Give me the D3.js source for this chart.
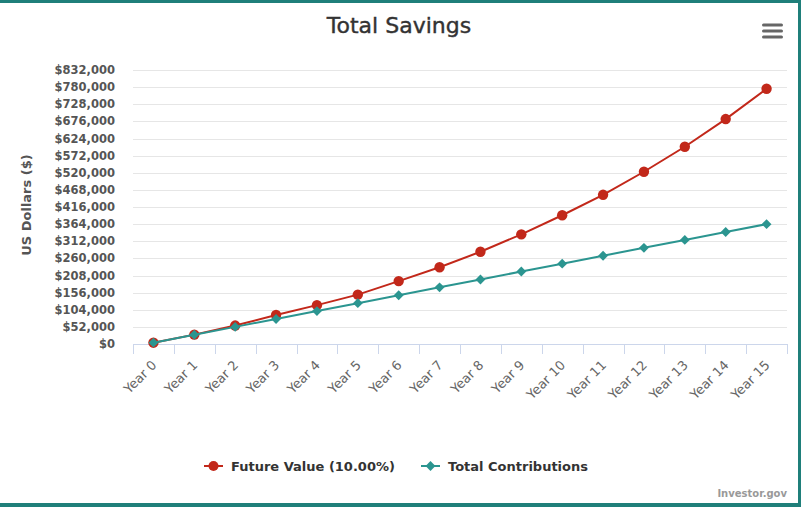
<!DOCTYPE html>
<html>
<head>
<meta charset="utf-8">
<script src="https://cdn.jsdelivr.net/npm/d3@7"></script>
<style>
  body { margin: 0; background: #fff; }
  svg { display: block; }
</style>
</head>
<body>
<svg width="801" height="507"></svg>
<script>
// values
const years = ["Year 0", "Year 1", "Year 2", "Year 3", "Year 4", "Year 5", "Year 6", "Year 7",
  "Year 8", "Year 9", "Year 10", "Year 11", "Year 12", "Year 13", "Year 14", "Year 15"];
const futureValue = [4000, 28500, 56000, 88000, 118000, 150000, 191000, 233000,
  280000, 333000, 391000, 453000, 523000, 599000, 683000, 775000];
const contributions = [4000, 28000, 52000, 76000, 100000, 124000, 148000, 172000,
  196000, 220000, 244000, 268000, 292000, 316000, 340000, 364000];
const yTicks = [0, 52000, 104000, 156000, 208000, 260000, 312000, 364000, 416000,
  468000, 520000, 572000, 624000, 676000, 728000, 780000, 832000];
const seriesNames = ["Future Value (10.00%)", "Total Contributions"];

const red = "#c2281a", teal = "#2b9590", border = "#1f7f7a";

let svg = d3.select("svg");
let margin = { top: 70, right: 14, bottom: 163, left: 133 };
let width = 801 - margin.left - margin.right,
  height = 507 - margin.top - margin.bottom;

// frame
svg.append("rect").attr("x", 0).attr("y", 0).attr("width", 801).attr("height", 3).attr("fill", border);
svg.append("rect").attr("x", 798).attr("y", 0).attr("width", 3).attr("height", 507).attr("fill", border);
svg.append("rect").attr("x", 0).attr("y", 503).attr("width", 801).attr("height", 4).attr("fill", border);

svg.append("text")
  .attr("x", 399).attr("y", 33)
  .attr("text-anchor", "middle")
  .style("font-family", "DejaVu Sans")
  .style("font-size", "22px")
  .style("fill", "#333")
  .style("stroke", "#333")
  .style("stroke-width", "0.4px")
  .text("Total Savings");

// menu icon
[24, 30, 36].forEach(function (y) {
  svg.append("rect").attr("x", 762).attr("y", y - 0.5).attr("width", 21).attr("height", 3)
    .attr("rx", 1.5).attr("fill", "#666");
});

let g = svg.append("g").attr("transform", "translate(" + margin.left + "," + margin.top + ")");

let x = d3.scaleBand().domain(years).range([0, width]);
let y = d3.scaleLinear().domain([0, 832000]).range([height, 0]);

// grid
g.selectAll(".grid")
  .data(yTicks)
  .enter()
  .append("line")
  .attr("x1", 0).attr("x2", width)
  .attr("y1", d => Math.round(y(d)) + 0.5).attr("y2", d => Math.round(y(d)) + 0.5)
  .attr("stroke", "#e6e6e6");

// y labels
g.selectAll(".ylab")
  .data(yTicks)
  .enter()
  .append("text")
  .attr("x", -18)
  .attr("y", d => y(d))
  .attr("dy", "0.35em")
  .attr("text-anchor", "end")
  .style("font-family", "DejaVu Sans")
  .style("font-weight", "bold")
  .style("font-size", "11.5px")
  .style("fill", "#555")
  .text(d => "$" + d3.format(",")(d));

svg.append("text")
  .attr("transform", "translate(31," + (margin.top + height / 2 - 2) + ") rotate(-90)")
  .attr("text-anchor", "middle")
  .style("font-family", "DejaVu Sans")
  .style("font-weight", "bold")
  .style("font-size", "13px")
  .style("fill", "#555")
  .text("US Dollars ($)");

// x axis
g.append("line")
  .attr("x1", 0).attr("x2", width)
  .attr("y1", height + 0.5).attr("y2", height + 0.5)
  .attr("stroke", "#ccd6eb");

g.selectAll(".xtick")
  .data(d3.range(years.length + 1))
  .enter()
  .append("line")
  .attr("x1", i => Math.round(i * x.step()) + 0.5)
  .attr("x2", i => Math.round(i * x.step()) + 0.5)
  .attr("y1", height).attr("y2", height + 10)
  .attr("stroke", "#ccd6eb");

g.selectAll(".xlab")
  .data(years)
  .enter()
  .append("text")
  .attr("transform", d => "translate(" + (x(d) + x.bandwidth() / 2 + 4) + "," + (height + 22) + ") rotate(-45)")
  .attr("text-anchor", "end")
  .style("font-family", "DejaVu Sans")
  .style("font-size", "13px")
  .style("fill", "#666")
  .text(d => d);

// series
let cx = (d, i) => x(years[i]) + x.bandwidth() / 2;
let line = d3.line().x(cx).y(d => y(d));

g.append("path")
  .attr("d", line(futureValue))
  .attr("fill", "none").attr("stroke", red).attr("stroke-width", 2);

g.selectAll(".fv")
  .data(futureValue)
  .enter()
  .append("circle")
  .attr("cx", cx).attr("cy", d => y(d)).attr("r", 5.2)
  .attr("fill", red);

g.append("path")
  .attr("d", line(contributions))
  .attr("fill", "none").attr("stroke", teal).attr("stroke-width", 2);

let diamond = d3.symbol().type(d3.symbolDiamond2).size(62);
g.selectAll(".tc")
  .data(contributions)
  .enter()
  .append("path")
  .attr("d", diamond)
  .attr("transform", (d, i) => "translate(" + cx(d, i) + "," + y(d) + ")")
  .attr("fill", teal);

// legend
let legend = svg.append("g").attr("transform", "translate(0,466)");
let items = [
  { name: seriesNames[0], color: red, x: 204, shape: "circle" },
  { name: seriesNames[1], color: teal, x: 421, shape: "diamond" }
];
items.forEach(function (it) {
  legend.append("line")
    .attr("x1", it.x).attr("x2", it.x + 19).attr("y1", 0).attr("y2", 0)
    .attr("stroke", it.color).attr("stroke-width", 2);
  if (it.shape === "circle") {
    legend.append("circle").attr("cx", it.x + 9.5).attr("cy", 0).attr("r", 5).attr("fill", it.color);
  } else {
    legend.append("path").attr("d", diamond).attr("transform", "translate(" + (it.x + 9.5) + ",0)").attr("fill", it.color);
  }
  legend.append("text")
    .attr("x", it.x + 27).attr("y", 5)
    .style("font-family", "DejaVu Sans")
    .style("font-weight", "bold")
    .style("font-size", "13px")
    .style("fill", "#333")
    .text(it.name);
});

svg.append("text")
  .attr("x", 787).attr("y", 497)
  .attr("text-anchor", "end")
  .style("font-family", "DejaVu Sans")
  .style("font-weight", "bold")
  .style("font-size", "10px")
  .style("fill", "#999")
  .text("Investor.gov");
</script>
</body>
</html>
